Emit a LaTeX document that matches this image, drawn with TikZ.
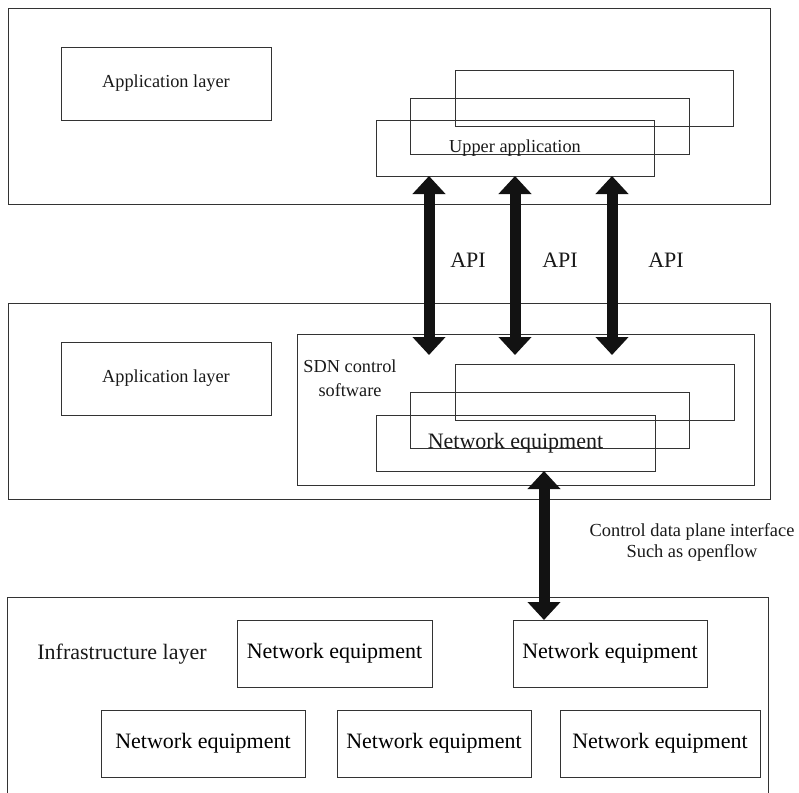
\documentclass[tikz,border=0pt]{standalone}
\usepackage{fontspec}
\setmainfont{Liberation Serif}
\usetikzlibrary{arrows.meta}

\tikzset{
  box/.style={draw=black!80, line width=0.9pt, inner sep=0pt, outer sep=0pt, fill=none},
  lbl/.style={text=black!90, inner sep=0pt, align=center},
  small/.style={font=\fontsize{18.3}{24}\selectfont},
  big/.style={font=\fontsize{22}{26}\selectfont},
  bigarrow/.style={draw=black!93, line width=11pt,
    {Triangle[width=32pt,length=18pt]}-{Triangle[width=32pt,length=18pt]}}
}

\begin{document}
\begin{tikzpicture}[x=1pt,y=-1pt]
\useasboundingbox (0,0) rectangle (799,792);

% ---- application plane ----
\node[box, minimum width=762pt, minimum height=196pt] (topLayer) at (389,106) {};
\node[box, minimum width=210pt, minimum height=73pt] (appTop) at (166,83.5) {};
\node[lbl, small] at (appTop) {Application layer};
\node[box, minimum width=278pt, minimum height=56pt] (upC) at (594,98) {};
\node[box, minimum width=279pt, minimum height=56pt] (upB) at (549.5,126) {};
\node[box, minimum width=278pt, minimum height=56pt] (upA) at (515,148) {};
\node[lbl, small] at (upA) {Upper application};

% ---- control plane ----
\node[box, minimum width=762pt, minimum height=196pt] (midLayer) at (389,401) {};
\node[box, minimum width=210pt, minimum height=73pt] (appMid) at (166,378.5) {};
\node[lbl, small] at (appMid) {Application layer};
\node[box, minimum width=457pt, minimum height=151pt] (sdn) at (525.5,409.5) {};
\node[lbl, small] (sdnText) at (350,378) {SDN control\\software};
\node[box, minimum width=279pt, minimum height=56pt] (netC) at (594.5,392) {};
\node[box, minimum width=279pt, minimum height=56pt] (netB) at (549.5,420) {};
\node[box, minimum width=279pt, minimum height=56pt] (netA) at (515.5,443) {};
\node[lbl, big] at (netA) {Network equipment};

% ---- infrastructure plane ----
\node[box, minimum width=761pt, minimum height=203pt] (botLayer) at (387.5,698.5) {};
\node[lbl, big] (infra) at (122,654) {Infrastructure layer};
\node[box, big, minimum width=195pt, minimum height=67pt] (ne1) at (334.5,653.5) {Network equipment};
\node[box, big, minimum width=194pt, minimum height=67pt] (ne2) at (610,653.5) {Network equipment};
\node[box, big, minimum width=204pt, minimum height=67pt] (ne3) at (203,743.5) {Network equipment};
\node[box, big, minimum width=194pt, minimum height=67pt] (ne4) at (434,743.5) {Network equipment};
\node[box, big, minimum width=200pt, minimum height=67pt] (ne5) at (660,743.5) {Network equipment};

% ---- API arrows ----
\coordinate (apiEnd1) at (429,355);
\coordinate (apiEnd2) at (515,355);
\coordinate (apiEnd3) at (612,355);
\draw[bigarrow] (upA.south -| apiEnd1) -- (apiEnd1);
\draw[bigarrow] (upA.south -| apiEnd2) -- (apiEnd2);
\draw[bigarrow] (upA.south -| apiEnd3) -- (apiEnd3);
\node[lbl, big] (api1) at (468,260) {API};
\node[lbl, big] (api2) at (560,260) {API};
\node[lbl, big] (api3) at (666,260) {API};

% ---- southbound interface ----
\coordinate (sbX) at (544,0);
\draw[bigarrow] (netA.south -| sbX) -- (ne2.north -| sbX);
\node[lbl, font=\fontsize{18.4}{21}\selectfont] (sbText) at (692,542)
  {Control data plane interface\\Such as openflow};
\end{tikzpicture}
\end{document}
